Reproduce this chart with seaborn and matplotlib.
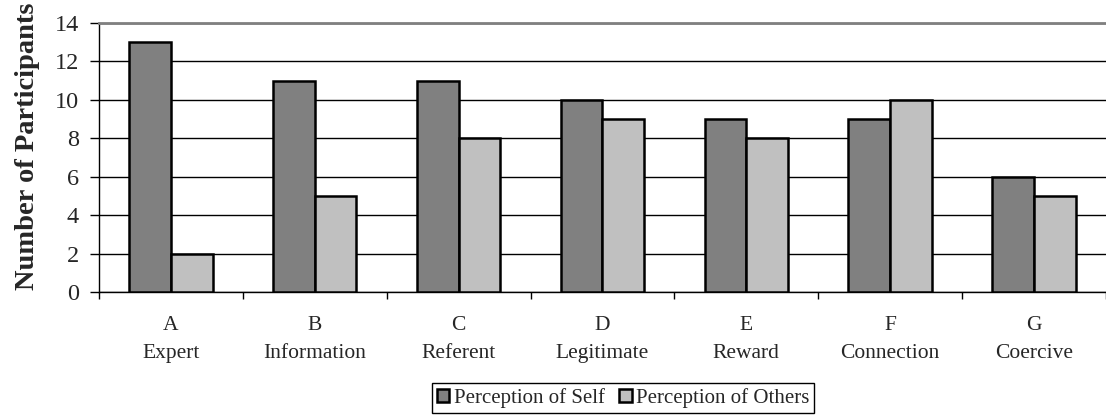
import matplotlib
matplotlib.use("Agg")
import matplotlib.pyplot as plt
import numpy as np
import pandas as pd
import seaborn as sns

letters = ["A", "B", "C", "D", "E", "F", "G"]
names = ["Expert", "Information", "Referent", "Legitimate", "Reward", "Connection", "Coercive"]
self_counts = [13, 11, 11, 10, 9, 9, 6]
others_counts = [2, 5, 8, 9, 8, 10, 5]
series = ["Perception of Self", "Perception of Others"]
colors = ["#808080", "#c0c0c0"]

categories = [f"{l}\n{n}" for l, n in zip(letters, names)]
df = pd.DataFrame({
    "category": categories * 2,
    "count": self_counts + others_counts,
    "series": [series[0]] * len(categories) + [series[1]] * len(categories),
})

sns.set_theme(style="white")
plt.rcParams["font.family"] = ["Liberation Serif", "DejaVu Serif"]

fig = plt.figure(figsize=(11.06, 4.15), dpi=100)
ax = fig.add_axes([0.0895, 0.2964, 0.9105, 0.6482])

sns.barplot(data=df, x="category", y="count", hue="series", order=categories,
            hue_order=series, palette=colors, width=0.58, edgecolor="black",
            linewidth=1.8, saturation=1, ax=ax, legend=True, zorder=3)

ax.set_ylim(0, 14)
ax.set_xlim(-0.5, len(categories) - 0.5)
ax.set_yticks(np.arange(0, 15, 2))
ax.yaxis.grid(True, color="black", linewidth=1.0, zorder=0)
ax.set_axisbelow(True)

# category boundaries carry the tick marks; labels sit at the centres
ax.set_xticks(np.arange(-0.5, len(categories), 1.0))
ax.set_xticklabels([])
ax.set_xticks(np.arange(len(categories)), minor=True)
ax.set_xticklabels(categories, minor=True, fontsize=15.5, linespacing=1.65)
ax.tick_params(axis="x", which="major", direction="out", length=5, width=1, color="black", bottom=True)
ax.tick_params(axis="x", which="minor", length=0, pad=17.5)
ax.tick_params(axis="y", direction="out", length=6.5, width=1, color="black", left=True,
               labelsize=17.5, pad=8)

ax.spines["right"].set_visible(False)
ax.spines["top"].set_color("#808080")
ax.spines["top"].set_linewidth(2.0)
for side in ["left", "bottom"]:
    ax.spines[side].set_color("black")
    ax.spines[side].set_linewidth(1.0)

ax.set_xlabel("")
ax.set_ylabel("Number of Participants", fontsize=20.5, fontweight="bold")
ax.yaxis.set_label_coords(-0.0586, 0.543)

handles, labels = ax.get_legend_handles_labels()
ax.legend(handles, labels, loc="upper center", bbox_to_anchor=(0.5633, 0.0771),
          bbox_transform=fig.transFigure, ncol=2, frameon=True, fontsize=15,
          handlelength=0.6, handleheight=0.6, handletextpad=0.2, columnspacing=0.7,
          borderpad=0.25, borderaxespad=0, fancybox=False, edgecolor="black", framealpha=1)
ax.get_legend().get_frame().set_linewidth(1.0)

fig.savefig("out.png", dpi=100)
